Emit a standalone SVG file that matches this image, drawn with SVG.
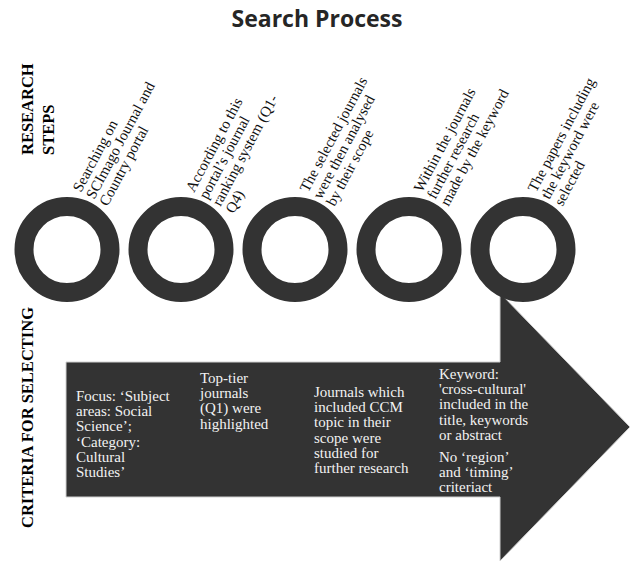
<svg xmlns="http://www.w3.org/2000/svg" width="631" height="562" viewBox="0 0 631 562">
<style>
.title{font-family:"Open Sans","DejaVu Sans",sans-serif;font-weight:bold;font-size:23px;fill:#262626;}
.head{font-family:"Liberation Serif","Times New Roman",serif;font-weight:bold;font-size:16.5px;fill:#000;}
.step{font-family:"Liberation Serif","Times New Roman",serif;font-size:15px;fill:#111;}
.crit{font-family:"Liberation Serif","Times New Roman",serif;font-size:15px;fill:#f2f2f2;}
.ring{fill:none;stroke:#333333;stroke-width:19;}
</style>
<rect width="631" height="562" fill="#ffffff"/>
<text class="title" x="317" y="27" text-anchor="middle">Search Process</text>
<g id="label-research">
<text class="head" transform="translate(33,155) rotate(-90)"><tspan x="0" y="0">RESEARCH</tspan><tspan x="0" y="21">STEPS</tspan></text>
</g>
<g id="label-criteria">
<text class="head" transform="translate(33,528) rotate(-90)">CRITERIA FOR SELECTING</text>
</g>
<g id="arrow">
<polygon points="66,362 500,362 500,293 630,427 500,561 500,497 66,497" fill="#333333" stroke="#d0d0d0" stroke-width="1"/>
</g>
<g id="step1">
<circle class="ring" cx="67" cy="249.5" r="43"/>
<text class="step" transform="translate(81,193) rotate(-62)"><tspan x="0" y="0">Searching on</tspan><tspan x="0" dy="15">SCImago Journal and</tspan><tspan x="0" dy="15">Country portal</tspan></text>
</g>
<g id="step2">
<circle class="ring" cx="181" cy="249.5" r="43"/>
<text class="step" transform="translate(194,193) rotate(-62)"><tspan x="0" y="0">According to this</tspan><tspan x="0" dy="15">portal’s journal</tspan><tspan x="0" dy="15">ranking system (Q1-</tspan><tspan x="0" dy="15">Q4)</tspan></text>
</g>
<g id="step3">
<circle class="ring" cx="295" cy="249.5" r="43"/>
<text class="step" transform="translate(308,193) rotate(-62)"><tspan x="0" y="0">The selected journals</tspan><tspan x="0" dy="15">were then analysed</tspan><tspan x="0" dy="15">by their scope</tspan></text>
</g>
<g id="step4">
<circle class="ring" cx="409" cy="249.5" r="43"/>
<text class="step" transform="translate(422,193) rotate(-62)"><tspan x="0" y="0">Within the journals</tspan><tspan x="0" dy="15">further research</tspan><tspan x="0" dy="15">made by the keyword</tspan></text>
</g>
<g id="step5">
<circle class="ring" cx="523" cy="249.5" r="43"/>
<text class="step" transform="translate(536,193) rotate(-62)"><tspan x="0" y="0">The papers including</tspan><tspan x="0" dy="15">the keyword were</tspan><tspan x="0" dy="15">selected</tspan></text>
</g>
<g id="criteria1">
<text class="crit"><tspan x="76" y="401">Focus: ‘Subject</tspan><tspan x="76" dy="15.2">areas: Social</tspan><tspan x="76" dy="15.2">Science’;</tspan><tspan x="76" dy="15.2">‘Category:</tspan><tspan x="76" dy="15.2">Cultural</tspan><tspan x="76" dy="15.2">Studies’</tspan></text>
</g>
<g id="criteria2">
<text class="crit"><tspan x="200" y="383">Top-tier</tspan><tspan x="200" dy="15.2">journals</tspan><tspan x="200" dy="15.2">(Q1) were</tspan><tspan x="200" dy="15.2">highlighted</tspan></text>
</g>
<g id="criteria3">
<text class="crit"><tspan x="314" y="397">Journals which</tspan><tspan x="314" dy="15.2">included CCM</tspan><tspan x="314" dy="15.2">topic in their</tspan><tspan x="314" dy="15.2">scope were</tspan><tspan x="314" dy="15.2">studied for</tspan><tspan x="314" dy="15.2">further research</tspan></text>
</g>
<g id="criteria4">
<text class="crit"><tspan x="439" y="379">Keyword:</tspan><tspan x="439" dy="15.2">'cross-cultural'</tspan><tspan x="439" dy="15.2">included in the</tspan><tspan x="439" dy="15.2">title, keywords</tspan><tspan x="439" dy="15.2">or abstract</tspan><tspan x="439" y="462">No ‘region’</tspan><tspan x="439" dy="15.2">and ‘timing’</tspan><tspan x="439" dy="15.2">criteriact</tspan></text>
</g>
</svg>
